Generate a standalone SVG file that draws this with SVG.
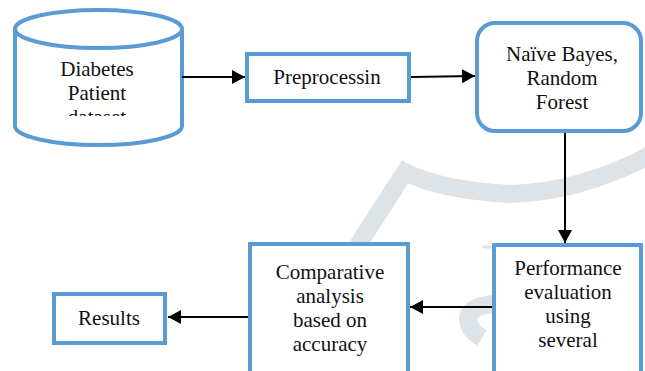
<svg xmlns="http://www.w3.org/2000/svg" width="645" height="371" viewBox="0 0 645 371">
<style>
.box{fill:#fff;stroke:#5b9bd5;stroke-width:4}
.t{font-family:"Liberation Serif","Times New Roman",serif;font-size:21px;fill:#111;text-anchor:middle}
.c{stroke:#000;stroke-width:2;fill:none}
.wm{fill:none;stroke:#dde3e7;stroke-width:18;stroke-linecap:butt}
</style>
<defs>
<marker id="ah" markerUnits="userSpaceOnUse" markerWidth="13" markerHeight="14" refX="13" refY="7" orient="auto">
<path d="M0,0 L13,7 L0,14 z" fill="#000"/>
</marker>
<clipPath id="cylclip"><rect x="15" y="40" width="167" height="76"/></clipPath>
</defs>
<g id="watermark">
<path class="wm" d="M358,245 L405,172 Q440,190 510,194 Q580,192 650,155"/>
<path class="wm" stroke-width="12" d="M494,304 Q470,306 468,318 Q468,330 482,338"/>
<path d="M483,247 L494,247" stroke="#dde3e7" stroke-width="3"/>
</g>
<g id="dataset">
<path class="box" d="M15,29 L15,126 A83.5,19 0 0 0 182,126 L182,29"/>
<ellipse class="box" cx="98.5" cy="29" rx="83.5" ry="19"/>
<g clip-path="url(#cylclip)">
<text class="t" x="97" y="76">Diabetes</text>
<text class="t" x="97" y="100">Patient</text>
<text class="t" x="97" y="124">dataset</text>
</g>
</g>
<g id="preprocessing">
<rect class="box" x="247" y="54" width="162" height="47"/>
<text class="t" x="327" y="84">Preprocessin</text>
</g>
<g id="models">
<rect class="box" x="477" y="23" width="164" height="108" rx="18"/>
<text class="t" x="562" y="61">Naïve Bayes,</text>
<text class="t" x="562" y="85">Random</text>
<text class="t" x="562" y="109">Forest</text>
</g>
<g id="performance">
<rect class="box" x="494" y="245" width="147" height="135"/>
<text class="t" x="568" y="275">Performance</text>
<text class="t" x="568" y="299">evaluation</text>
<text class="t" x="568" y="323">using</text>
<text class="t" x="568" y="347">several</text>
</g>
<g id="comparative">
<rect class="box" x="250" y="244" width="158" height="135"/>
<text class="t" x="330" y="279">Comparative</text>
<text class="t" x="330" y="303">analysis</text>
<text class="t" x="330" y="327">based on</text>
<text class="t" x="330" y="351">accuracy</text>
</g>
<g id="results">
<rect class="box" x="54" y="294" width="111" height="49"/>
<text class="t" x="109" y="325">Results</text>
</g>
<g id="connectors">
<line class="c" x1="182" y1="77" x2="245" y2="77" marker-end="url(#ah)"/>
<line class="c" x1="411" y1="77" x2="475" y2="76" marker-end="url(#ah)"/>
<line class="c" x1="565" y1="133" x2="565" y2="243" marker-end="url(#ah)"/>
<line class="c" x1="492" y1="307" x2="410" y2="307" marker-end="url(#ah)"/>
<line class="c" x1="248" y1="317" x2="168" y2="317" marker-end="url(#ah)"/>
</g>
</svg>
